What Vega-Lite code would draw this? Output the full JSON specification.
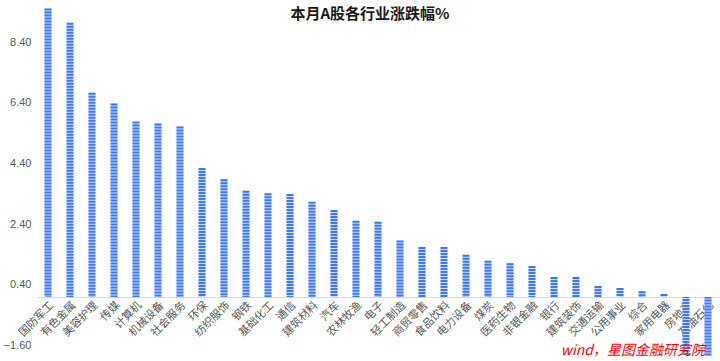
{
  "$schema": "https://vega.github.io/schema/vega-lite/v6.json",
  "width": 682,
  "height": 350,
  "autosize": {"type": "none"},
  "padding": {"left": 37, "top": 6, "right": 1, "bottom": 5},
  "background": "white",
  "config": {"view": {"stroke": null}},
  "title": {"text": "本月A股各行业涨跌幅%", "font": "Noto Sans CJK SC", "fontSize": 15, "fontWeight": "bold", "color": "#1a1a1a", "anchor": "middle", "offset": -17, "dx": -8},
  "data": {"values": [
    {"name": "国防军工", "value": 9.52},
    {"name": "有色金属", "value": 9.05},
    {"name": "美容护理", "value": 6.74},
    {"name": "传媒", "value": 6.38},
    {"name": "计算机", "value": 5.79},
    {"name": "机械设备", "value": 5.72},
    {"name": "社会服务", "value": 5.62},
    {"name": "环保", "value": 4.25},
    {"name": "纺织服饰", "value": 3.88},
    {"name": "钢铁", "value": 3.50},
    {"name": "基础化工", "value": 3.42},
    {"name": "通信", "value": 3.40},
    {"name": "建筑材料", "value": 3.14},
    {"name": "汽车", "value": 2.87},
    {"name": "农林牧渔", "value": 2.51},
    {"name": "电子", "value": 2.48},
    {"name": "轻工制造", "value": 1.86},
    {"name": "商贸零售", "value": 1.65},
    {"name": "食品饮料", "value": 1.65},
    {"name": "电力设备", "value": 1.39},
    {"name": "煤炭", "value": 1.19},
    {"name": "医药生物", "value": 1.11},
    {"name": "非银金融", "value": 1.02},
    {"name": "银行", "value": 0.66},
    {"name": "建筑装饰", "value": 0.66},
    {"name": "交通运输", "value": 0.36},
    {"name": "公用事业", "value": 0.29},
    {"name": "综合", "value": 0.19},
    {"name": "家用电器", "value": 0.10},
    {"name": "房地产", "value": -1.92},
    {"name": "石油石化", "value": -1.93}
  ]},
  "encoding": {
    "x": {"field": "name", "type": "nominal", "sort": null,
      "scale": {"paddingInner": 0, "paddingOuter": 0},
      "axis": {"title": null, "offset": -59, "labelAngle": -45, "ticks": false, "domainColor": "#d9d9d9", "labelColor": "#595959", "labelFontSize": 11, "labelFont": "Noto Sans CJK SC", "labelPadding": 2}},
    "y": {"field": "value", "type": "quantitative",
      "scale": {"domain": [-1.95, 9.6], "nice": false, "zero": false, "clamp": true},
      "axis": {"title": null, "values": [-1.6, 0.4, 2.4, 4.4, 6.4, 8.4], "format": ".2f", "domain": false, "ticks": false, "grid": false, "labelColor": "#595959", "labelFontSize": 11, "labelFont": "Liberation Sans", "labelPadding": 6}}
  },
  "layer": [
    {"mark": {"type": "bar", "width": 7, "color": "#cddcfc"},
     "encoding": {"y2": {"datum": 0}}},
    {"mark": {"type": "rule", "strokeWidth": 7, "color": "#3f78f6", "strokeDash": [2, 1], "strokeCap": "butt"},
     "encoding": {"y2": {"datum": 0}}},
    {"data": {"values": [{"src": "wind，星图金融研究院", "name": "石油石化", "value": -1.8}]},
     "mark": {"type": "text", "color": "#ff0000", "fontStyle": "italic", "fontSize": 14, "align": "right", "baseline": "middle", "font": "Noto Sans CJK SC", "dx": -3},
     "encoding": {"text": {"field": "src"}}}
  ]
}
